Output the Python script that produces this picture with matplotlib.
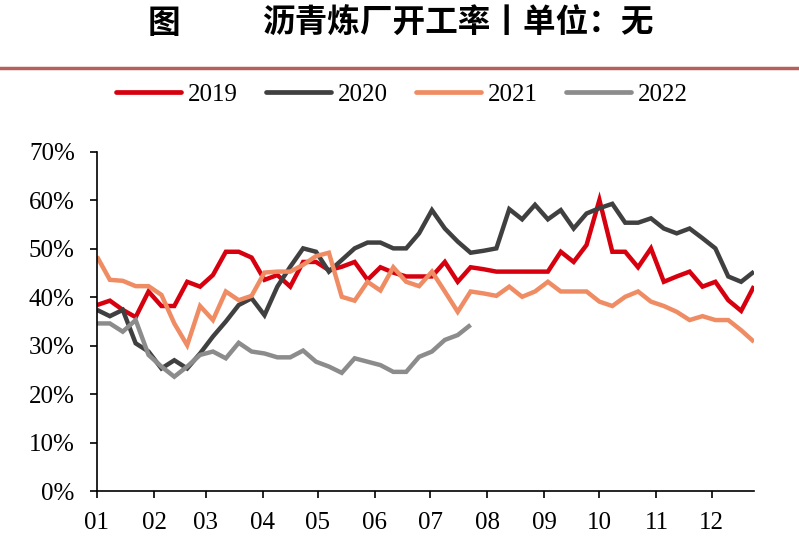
import numpy as np
import matplotlib
matplotlib.use('Agg')
import matplotlib.pyplot as plt
from matplotlib.lines import Line2D

# weekly asphalt refinery operating rate, %
rate_2019 = [38.4, 39.3, 37.4, 35.9, 41.2, 38.2, 38.2, 43.2, 42.2, 44.6,
             49.4, 49.4, 48.2, 43.6, 44.6, 42.2, 47.3, 47.3, 45.6, 46.3,
             47.3, 43.6, 46.2, 45.1, 44.3, 44.3, 44.3, 47.3, 43.2, 46.2,
             45.8, 45.3, 45.3, 45.3, 45.3, 45.3, 49.4, 47.3, 50.8, 60.1,
             49.4, 49.4, 46.2, 50.1, 43.2, 44.3, 45.3, 42.2, 43.2, 39.4,
             37.2, 42.3]
rate_2020 = [37.4, 36.1, 37.4, 30.5, 28.8, 25.3, 27.0, 25.3, 28.4, 31.9,
             35.0, 38.4, 39.8, 36.3, 42.2, 46.3, 50.1, 49.4, 45.3, 47.7,
             50.1, 51.3, 51.3, 50.1, 50.1, 53.2, 58.0, 54.2, 51.5, 49.2,
             49.6, 50.1, 58.2, 56.1, 59.1, 56.1, 58.0, 54.2, 57.3, 58.4,
             59.3, 55.4, 55.4, 56.3, 54.2, 53.2, 54.2, 52.2, 50.1, 44.3,
             43.2, 45.3]
rate_2021 = [48.4, 43.6, 43.4, 42.3, 42.3, 40.5, 34.6, 30.1, 38.2, 35.3,
             41.2, 39.4, 40.3, 45.1, 45.3, 45.3, 46.7, 48.5, 49.2, 40.1,
             39.3, 43.2, 41.4, 46.2, 43.2, 42.3, 45.3, 41.2, 37.0, 41.2,
             40.8, 40.3, 42.2, 40.1, 41.2, 43.2, 41.2, 41.2, 41.2, 39.1,
             38.2, 40.1, 41.2, 39.1, 38.2, 37.0, 35.3, 36.1, 35.3, 35.3,
             33.2, 30.8]
rate_2022 = [34.6, 34.6, 32.9, 35.3, 28.1, 25.7, 23.6, 25.7, 28.1, 28.8,
             27.4, 30.6, 28.8, 28.4, 27.6, 27.6, 29.0, 26.7, 25.7, 24.4,
             27.4, 26.7, 26.0, 24.6, 24.6, 27.7, 28.8, 31.2, 32.2, 34.3]

month_labels = ['01', '02', '03', '04', '05', '06',
                '07', '08', '09', '10', '11', '12']
month_days = [31, 28, 31, 30, 31, 30, 31, 31, 30, 31, 30, 31]

series = [('2019', rate_2019, '#D7000F'),
          ('2020', rate_2020, '#404040'),
          ('2021', rate_2021, '#F08C64'),
          ('2022', rate_2022, '#8C8C8C')]

plt.rcParams['font.family'] = ['Liberation Serif', 'DejaVu Serif']

fig = plt.figure(figsize=(7.99, 5.44), dpi=100)
ax = fig.add_axes([0.1214, 0.0974, 0.8223, 0.6232])

for name, vals, color in series:
    days = np.arange(len(vals)) * 7
    ax.plot(days, vals, color=color, lw=3.2, label=name,
            solid_joinstyle='miter', solid_capstyle='butt')

month_starts = np.concatenate([[0], np.cumsum(month_days[:-1])])
ax.set_xticks(month_starts)
ax.set_xticklabels(month_labels)
ax.set_xlim(0, 51 * 7)
ax.set_ylim(0, 70)
ax.set_yticks(np.arange(0, 71, 10))
ax.set_yticklabels([f'{v}%' for v in range(0, 71, 10)])

for side in ['top', 'right']:
    ax.spines[side].set_visible(False)
for side in ['left', 'bottom']:
    ax.spines[side].set_linewidth(1.2)
    ax.spines[side].set_color('black')
ax.tick_params(axis='both', direction='out', length=5, width=1.2,
               labelsize=18, colors='black')
ax.tick_params(axis='y', pad=11)
ax.tick_params(axis='x', pad=10)

handles = [Line2D([], [], color=c, lw=3.4, solid_capstyle='round')
           for _, _, c in series]
fig.legend(handles, [s[0] for s in series], loc='center', ncol=4,
           bbox_to_anchor=(0.503, 1 - 95 / 544), frameon=False, fontsize=18,
           handlelength=2.6, handletextpad=0.25, columnspacing=1.15)

title_font = ['Noto Sans CJK SC', 'DejaVu Sans']
fig.text(148 / 799, 1 - 23 / 544, '图', family=title_font,
         fontweight='bold', fontsize=23.5, ha='left', va='center')
fig.text(262 / 799, 1 - 23 / 544, '沥青炼厂开工率丨单位：无',
         family=title_font, fontweight='bold', fontsize=23.5,
         ha='left', va='center')
fig.add_artist(Line2D([0, 1], [1 - 68 / 544, 1 - 68 / 544],
                      color='#B5605A', lw=2.5, transform=fig.transFigure))

fig.savefig('out.png', dpi=100)
